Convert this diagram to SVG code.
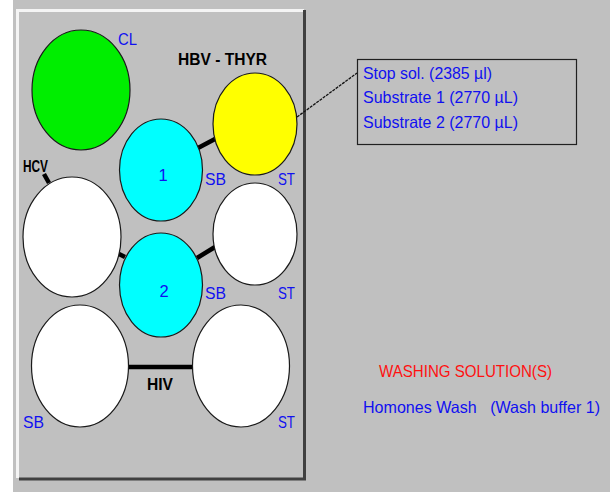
<svg xmlns="http://www.w3.org/2000/svg" width="610" height="492" viewBox="0 0 610 492">
<style>
.well{stroke:#1a1a1a;stroke-width:1.2}
.bar{stroke:#000;stroke-width:4.5;stroke-linecap:butt;fill:none}
.lbl{font-family:"Liberation Sans",Arial,sans-serif;font-size:16.5px;fill:#1010f0}
.bold{font-family:"Liberation Sans",Arial,sans-serif;font-size:16px;font-weight:bold;fill:#000}
</style>
<rect x="0" y="0" width="610" height="492" fill="#c0c0c0"/>
<rect x="0" y="0" width="13" height="492" fill="#ffffff"/>
<g id="panel">
<rect x="13" y="8" width="293" height="473" fill="#c0c0c0"/>
<line x1="16" y1="10.5" x2="304" y2="10.5" stroke="#f4f4f4" stroke-width="3"/>
<line x1="17.5" y1="10" x2="17.5" y2="478" stroke="#f4f4f4" stroke-width="3"/>
<line x1="304.5" y1="10" x2="304.5" y2="480" stroke="#404040" stroke-width="3"/>
<line x1="19" y1="479" x2="306" y2="479" stroke="#404040" stroke-width="3"/>
</g>
<g id="connectors">
<line class="bar" x1="198" y1="148" x2="215" y2="139"/>
<line class="bar" x1="197" y1="258" x2="215" y2="247"/>
<line class="bar" x1="117" y1="253" x2="125" y2="257"/>
<line class="bar" x1="44" y1="174" x2="49" y2="183"/>
<line class="bar" x1="129" y1="367" x2="193" y2="367"/>
<line x1="297" y1="117" x2="357" y2="73" stroke="#111" stroke-width="1.3" stroke-dasharray="3,1"/>
</g>
<g id="cl"><ellipse class="well" cx="81" cy="90" rx="49" ry="60" fill="#00ee00"/><text class="lbl" x="118" y="45" textLength="19" lengthAdjust="spacingAndGlyphs">CL</text></g>
<g id="hbv-thyr"><ellipse class="well" cx="255" cy="124" rx="42" ry="51" fill="#ffff00"/><text class="bold" x="178" y="65" textLength="89" lengthAdjust="spacingAndGlyphs">HBV - THYR</text><text class="lbl" x="278" y="185" textLength="17" lengthAdjust="spacingAndGlyphs">ST</text></g>
<g id="sb1"><ellipse class="well" cx="161" cy="170" rx="41.5" ry="51" fill="#00ffff"/><text class="lbl" x="163" y="181" text-anchor="middle">1</text><text class="lbl" x="205" y="185" textLength="21" lengthAdjust="spacingAndGlyphs">SB</text></g>
<g id="hcv"><ellipse class="well" cx="72" cy="237" rx="49" ry="60" fill="#ffffff"/><text class="bold" x="23" y="172" textLength="25" lengthAdjust="spacingAndGlyphs">HCV</text></g>
<g id="st2"><ellipse class="well" cx="255" cy="234" rx="42" ry="51" fill="#ffffff"/><text class="lbl" x="278" y="299" textLength="17" lengthAdjust="spacingAndGlyphs">ST</text></g>
<g id="sb2"><ellipse class="well" cx="161" cy="285" rx="41.5" ry="52" fill="#00ffff"/><text class="lbl" x="164" y="297" text-anchor="middle">2</text><text class="lbl" x="205" y="299" textLength="21" lengthAdjust="spacingAndGlyphs">SB</text></g>
<g id="hiv-sb"><ellipse class="well" cx="80" cy="366" rx="48.5" ry="61" fill="#ffffff"/><text class="lbl" x="23" y="428" textLength="21" lengthAdjust="spacingAndGlyphs">SB</text></g>
<g id="hiv-st"><ellipse class="well" cx="241" cy="366" rx="48.5" ry="61" fill="#ffffff"/><text class="lbl" x="278" y="428" textLength="17" lengthAdjust="spacingAndGlyphs">ST</text></g>
<text class="bold" x="147" y="390" textLength="26" lengthAdjust="spacingAndGlyphs">HIV</text>
<g id="callout">
<rect x="357.5" y="59.5" width="219" height="85" fill="none" stroke="#202020" stroke-width="1.2"/>
<text class="lbl" x="363" y="79" textLength="129" lengthAdjust="spacingAndGlyphs">Stop sol. (2385 µl)</text>
<text class="lbl" x="363" y="103" textLength="155" lengthAdjust="spacingAndGlyphs">Substrate 1 (2770 µL)</text>
<text class="lbl" x="363" y="128" textLength="155" lengthAdjust="spacingAndGlyphs">Substrate 2 (2770 µL)</text>
</g>
<g id="washing">
<text class="lbl" x="379" y="377" style="fill:#ff1010" textLength="173" lengthAdjust="spacingAndGlyphs">WASHING SOLUTION(S)</text>
<text class="lbl" x="363" y="413" xml:space="preserve" textLength="237" lengthAdjust="spacingAndGlyphs">Homones Wash   (Wash buffer 1)</text>
</g>
</svg>
